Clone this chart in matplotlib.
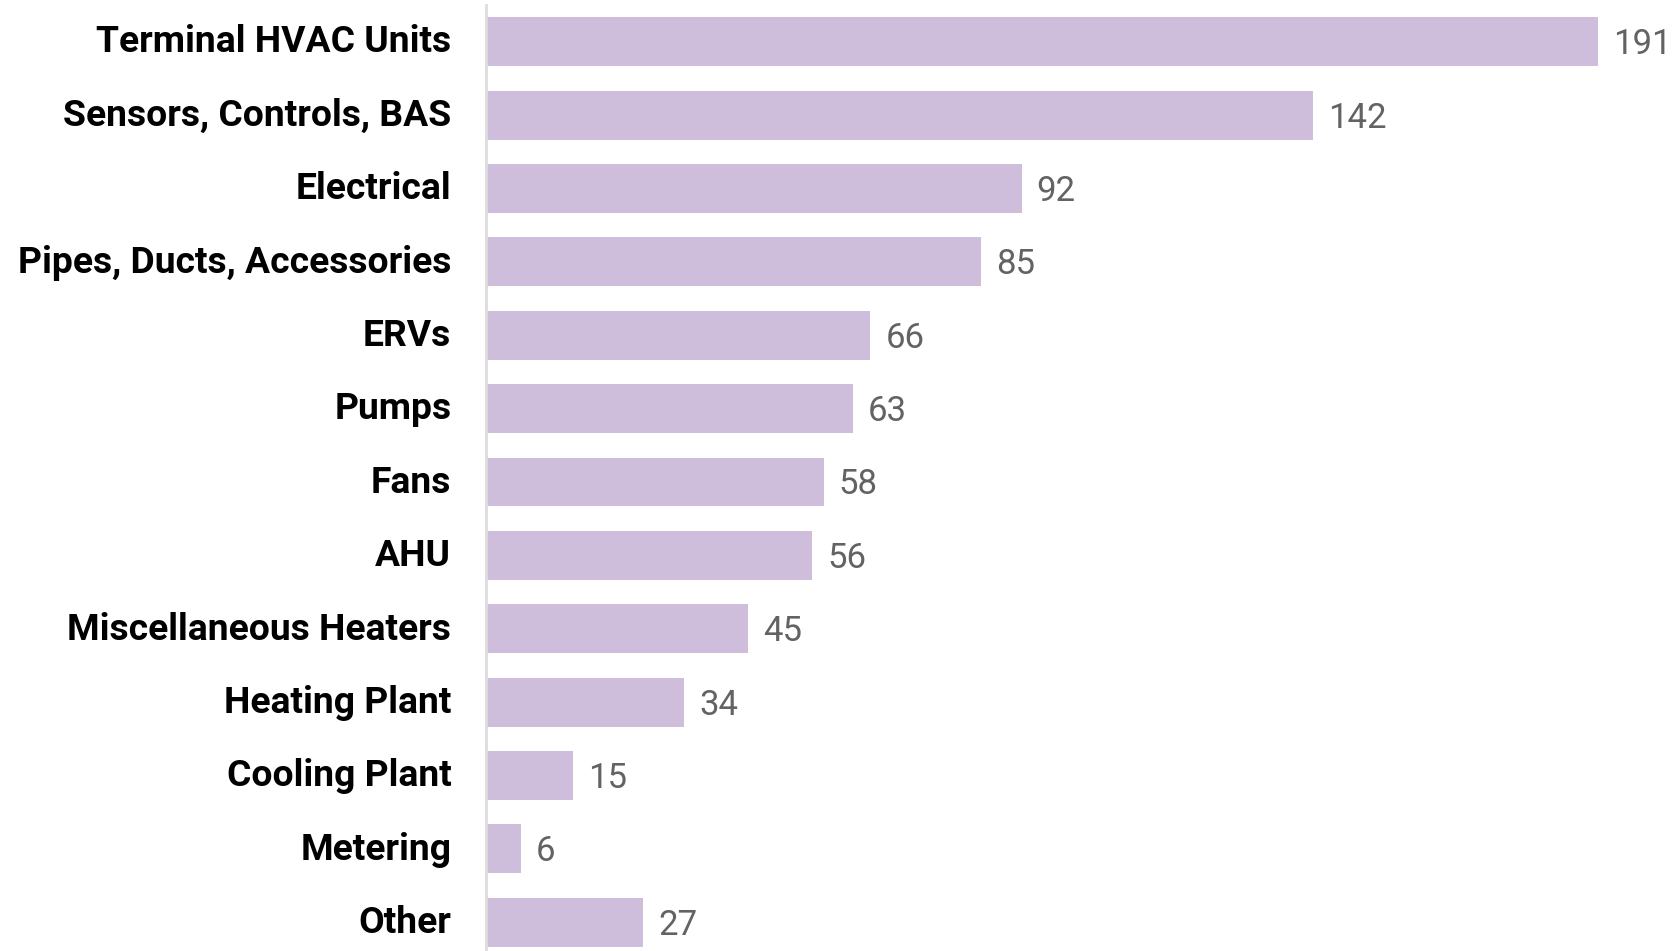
import matplotlib
matplotlib.use("Agg")
import matplotlib.pyplot as plt
from matplotlib.transforms import ScaledTranslation

categories = ["Terminal HVAC Units", "Sensors, Controls, BAS", "Electrical",
              "Pipes, Ducts, Accessories", "ERVs", "Pumps", "Fans", "AHU",
              "Miscellaneous Heaters", "Heating Plant", "Cooling Plant",
              "Metering", "Other"]
values = [191, 142, 92, 85, 66, 63, 58, 56, 45, 34, 15, 6, 27]

W, H = 1675, 951
fig = plt.figure(figsize=(W / 100, H / 100), dpi=100)
left_px, right_px = 486, 1675
top_px, bottom_px = 5, 959
ax = fig.add_axes([left_px / W, 1 - bottom_px / H, (right_px - left_px) / W, (bottom_px - top_px) / H])

scale = 5.822  # px per unit
y = list(range(len(categories)))
ax.barh(y, values, height=0.667, color="#CEBEDB", zorder=2)
ax.set_ylim(len(categories) - 0.5, -0.5)
ax.set_xlim(0, (right_px - left_px) / scale)

for yi, v in zip(y, values):
    ax.annotate(str(v), xy=(v, yi), xytext=(15, -3), textcoords="offset pixels",
                va="center", ha="left", fontsize=25, color="#636363",
                family="Roboto", annotation_clip=False)

ax.set_yticks(y)
ax.set_yticklabels(categories, fontsize=26.8, fontweight="bold", family="Roboto", color="black")
ax.tick_params(axis="y", length=0, pad=25)
shift = ScaledTranslation(0, 3.2 / 100, fig.dpi_scale_trans)
for lab in ax.get_yticklabels():
    lab.set_transform(lab.get_transform() + shift)
ax.set_xticks([])
for s in ["top", "right", "bottom"]:
    ax.spines[s].set_visible(False)
ax.spines["left"].set_color("#DDDDDD")
ax.spines["left"].set_linewidth(2)
ax.spines["left"].set_zorder(3)

fig.savefig("out.png", dpi=100)
